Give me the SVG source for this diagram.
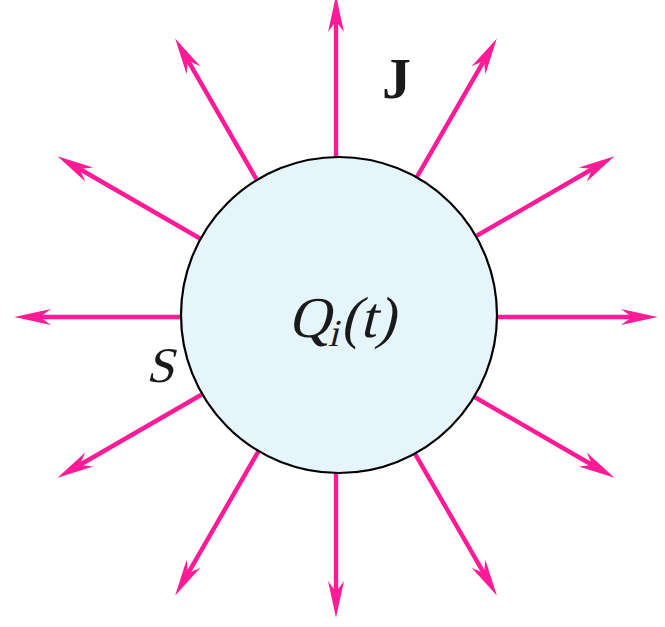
<svg xmlns="http://www.w3.org/2000/svg" width="665" height="627" viewBox="0 0 665 627">
<style>
.flux{stroke:#ff1a96;stroke-width:4.4;fill:none}
.lbl{font-family:'Liberation Serif','Times New Roman',serif;fill:#1a1a1a}
</style>
<defs>
<marker id="ah" markerUnits="userSpaceOnUse" markerWidth="44" markerHeight="24" viewBox="-12 -9 36 18" refX="0" refY="0" orient="auto">
<path d="M-9,-6.5 L21,0 L-9,6.5 L0,0 Z" fill="#ff1a96"/>
</marker>
</defs>
<rect width="665" height="627" fill="#ffffff"/>
<g id="connectors">
<line class="flux" x1="476" y1="317" x2="632" y2="317" marker-end="url(#ah)"/>
<line class="flux" x1="457.2" y1="247" x2="592.3" y2="169" marker-end="url(#ah)"/>
<line class="flux" x1="406" y1="195.8" x2="484" y2="60.7" marker-end="url(#ah)"/>
<line class="flux" x1="336" y1="177" x2="336" y2="21" marker-end="url(#ah)"/>
<line class="flux" x1="266" y1="195.8" x2="188" y2="60.7" marker-end="url(#ah)"/>
<line class="flux" x1="214.8" y1="247" x2="79.7" y2="169" marker-end="url(#ah)"/>
<line class="flux" x1="196" y1="317" x2="40" y2="317" marker-end="url(#ah)"/>
<line class="flux" x1="214.8" y1="387" x2="79.7" y2="465" marker-end="url(#ah)"/>
<line class="flux" x1="266" y1="438.2" x2="188" y2="573.3" marker-end="url(#ah)"/>
<line class="flux" x1="336" y1="457" x2="336" y2="592" marker-end="url(#ah)"/>
<line class="flux" x1="406" y1="438.2" x2="484" y2="573.3" marker-end="url(#ah)"/>
<line class="flux" x1="457.2" y1="387" x2="592.3" y2="465" marker-end="url(#ah)"/>
</g>
<g id="volume">
<circle cx="339" cy="315" r="158" fill="#e6f4fb" stroke="#000000" stroke-width="2.2"/>
<text class="lbl" transform="translate(288,337) skewX(-14)" x="0" y="0" font-size="58">Q<tspan font-size="38" dy="9">i</tspan><tspan dy="-9">(t)</tspan></text>
</g>
<g id="surface-label">
<text class="lbl" transform="translate(146,382) skewX(-14)" x="0" y="0" font-size="50">S</text>
</g>
<g id="flux-label">
<text class="lbl" x="382" y="98" font-size="58" font-weight="bold">J</text>
</g>
</svg>
